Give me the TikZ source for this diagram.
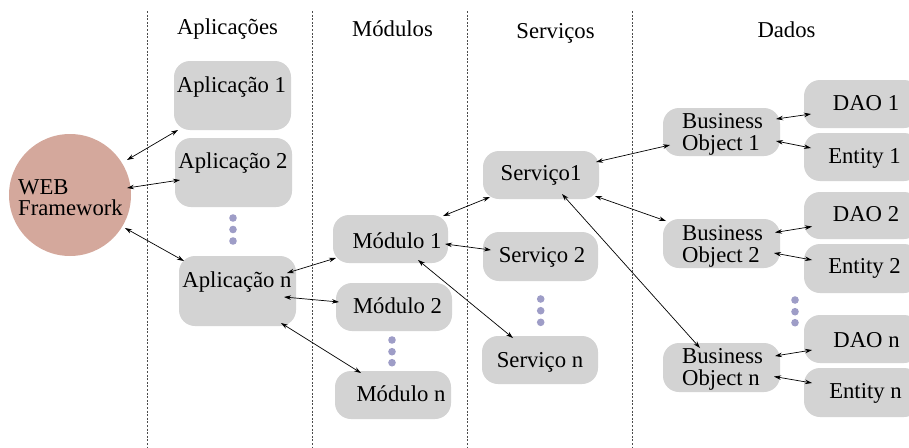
\documentclass[tikz,border=0pt]{standalone}
\usepackage{fontspec}
\setmainfont{Liberation Serif}
\usetikzlibrary{arrows.meta,calc}
\definecolor{boxgray}{HTML}{D3D3D3}
\definecolor{webfill}{HTML}{D4A89C}
\definecolor{dotcol}{HTML}{9E9DC7}
\begin{document}
\begin{tikzpicture}[x=1pt,y=-1pt,
  txt/.style={font=\fontsize{22.7}{21.5}\selectfont, inner sep=0pt},
  box/.style 2 args={fill=boxgray, draw=none, rounded corners=16pt, inner sep=0pt, minimum width=#1, minimum height=#2},
  link/.style={{Stealth[length=7pt,width=4.5pt]}-{Stealth[length=7pt,width=4.5pt]}, line width=0.7pt},
  sep/.style={dash pattern=on 2pt off 1.6pt, line width=0.8pt, gray!60!black},
  dot/.style={fill=dotcol}]
\useasboundingbox (0,0) rectangle (909,447);
\clip (0,0) rectangle (909,447);

% column separators
\foreach \x in {147,312,467,632} \draw[sep] (\x,11) -- (\x,447);

% headers
\node[txt,anchor=base] (hApp) at (227.5,34) {Aplicações};
\node[txt,anchor=base] (hMod) at (392.5,36) {Módulos};
\node[txt,anchor=base] (hSrv) at (555.5,38) {Serviços};
\node[txt,anchor=base] (hDat) at (786.5,37) {Dados};

% web framework
\node[circle, fill=webfill, minimum size=122, inner sep=0pt] (web) at (70,195) {};
\node[txt, anchor=base west, align=left, font=\fontsize{22.7}{21}\selectfont] (webt) at (18,215.5) {WEB\\Framework};

% boxes
\node[box={117}{69}] (app1) at (232.5,95.5) {};
\node[box={117}{69}] (app2) at (233.5,172.5) {};
\node[box={117}{70}] (appn) at (237.5,291) {};
\node[box={115}{48}] (mod1) at (390.5,239) {};
\node[box={116}{48}] (mod2) at (394,307) {};
\node[box={116}{48}] (modn) at (393,395) {};
\node[box={116}{48}] (srv1) at (541,175) {};
\node[box={115}{49}] (srv2) at (540.5,256.5) {};
\node[box={116}{48}] (srvn) at (540,360) {};
\node[box={117}{48}] (bo1) at (721.5,132) {};
\node[box={117}{49}] (bo2) at (721.5,243.5) {};
\node[box={117}{49}] (bon) at (721.5,367.5) {};
\node[box={116}{48}] (dao1) at (862,104) {};
\node[box={116}{48}] (ent1) at (862,157) {};
\node[box={116}{47}] (dao2) at (862,215.5) {};
\node[box={116}{49}] (ent2) at (862,268.5) {};
\node[box={116}{48}] (daon) at (862,339) {};
\node[box={116}{49}] (entn) at (862,392.5) {};

% texts
\node[txt,anchor=base] (app1t) at (231.5,92) {Aplicação 1};
\node[txt,anchor=base] (app2t) at (233,168) {Aplicação 2};
\node[txt,anchor=base] (appnt) at (237,287) {Aplicação n};
\node[txt,anchor=base] (mod1t) at (397,248) {Módulo 1};
\node[txt,anchor=base] (mod2t) at (397.5,313) {Módulo 2};
\node[txt,anchor=base] (modnt) at (401,401) {Módulo n};
\node[txt,anchor=base] (srv1t) at (541,180) {Serviço1};
\node[txt,anchor=base] (srv2t) at (542,262) {Serviço 2};
\node[txt,anchor=base] (srvnt) at (540,367) {Serviço n};
\node[txt,anchor=base west,align=left] (bo1t) at (682,150) {Business\\Object 1};
\node[txt,anchor=base west,align=left] (bo2t) at (682,262) {Business\\Object 2};
\node[txt,anchor=base west,align=left] (bont) at (682,385) {Business\\Object n};
\node[txt,anchor=base] (dao1t) at (866,110) {DAO 1};
\node[txt,anchor=base] (ent1t) at (864.5,163) {Entity 1};
\node[txt,anchor=base] (dao2t) at (866,221) {DAO 2};
\node[txt,anchor=base] (ent2t) at (864.5,273) {Entity 2};
\node[txt,anchor=base] (daont) at (866.5,347) {DAO n};
\node[txt,anchor=base] (entnt) at (865.5,398) {Entity n};

% ellipsis dots
\foreach \y in {218,229.5,241} \fill[dot] (233,\y) circle (3.8);
\foreach \y in {340,351.7,362.7} \fill[dot] (392,\y) circle (3.8);
\foreach \y in {299,310.7,322.3} \fill[dot] (540.7,\y) circle (3.8);
\foreach \y in {300,311.7,322.7} \fill[dot] (795,\y) circle (3.8);

% connectors
\draw[link] ($(web)+(57,-35)$) -- ($(app1)+(-54.5,34.5)$);
\draw[link] ($(web)+(57,-7)$) -- ($(app2)+(-53.5,7.5)$);
\draw[link] ($(web)+(55,33)$) -- ($(appn)+(-53.5,-30)$);
\draw[link] ($(appn)+(49.5,-18)$) -- ($(mod1)+(-54.5,19)$);
\draw[link] ($(appn)+(46.5,6)$) -- ($(mod2)+(-55,-5)$);
\draw[link] ($(appn)+(43.5,32)$) -- ($(modn)+(-32,-22)$);
\draw[link] ($(mod1)+(52.5,-23)$) -- ($(srv1)+(-51,22)$);
\draw[link] ($(mod1)+(54.5,5)$) -- ($(srv2)+(-49.5,-6.5)$);
\draw[link] ($(mod1)+(27.5,21)$) -- ($(srvn)+(-27,-22)$);
\draw[link] ($(srv1)+(55,-13)$) -- ($(bo1)+(-51.5,13)$);
\draw[link] ($(srv1)+(54,21)$) -- ($(bo2)+(-55.5,-22.5)$);
\draw[link] ($(srv1)+(21,19)$) -- ($(bon)+(-21.5,-19.5)$);
\draw[link] ($(bo1)+(54.5,-13)$) -- ($(dao1)+(-51,10)$);
\draw[link] ($(bo1)+(54.5,9)$) -- ($(ent1)+(-51,-9)$);
\draw[link] ($(bo2)+(53.5,-11)$) -- ($(dao2)+(-50,11)$);
\draw[link] ($(bo2)+(52.5,9.5)$) -- ($(ent2)+(-50,-8.5)$);
\draw[link] ($(bon)+(53.5,-11.5)$) -- ($(daon)+(-50,11)$);
\draw[link] ($(bon)+(52.5,9)$) -- ($(entn)+(-50,-9.5)$);
\end{tikzpicture}
\end{document}
